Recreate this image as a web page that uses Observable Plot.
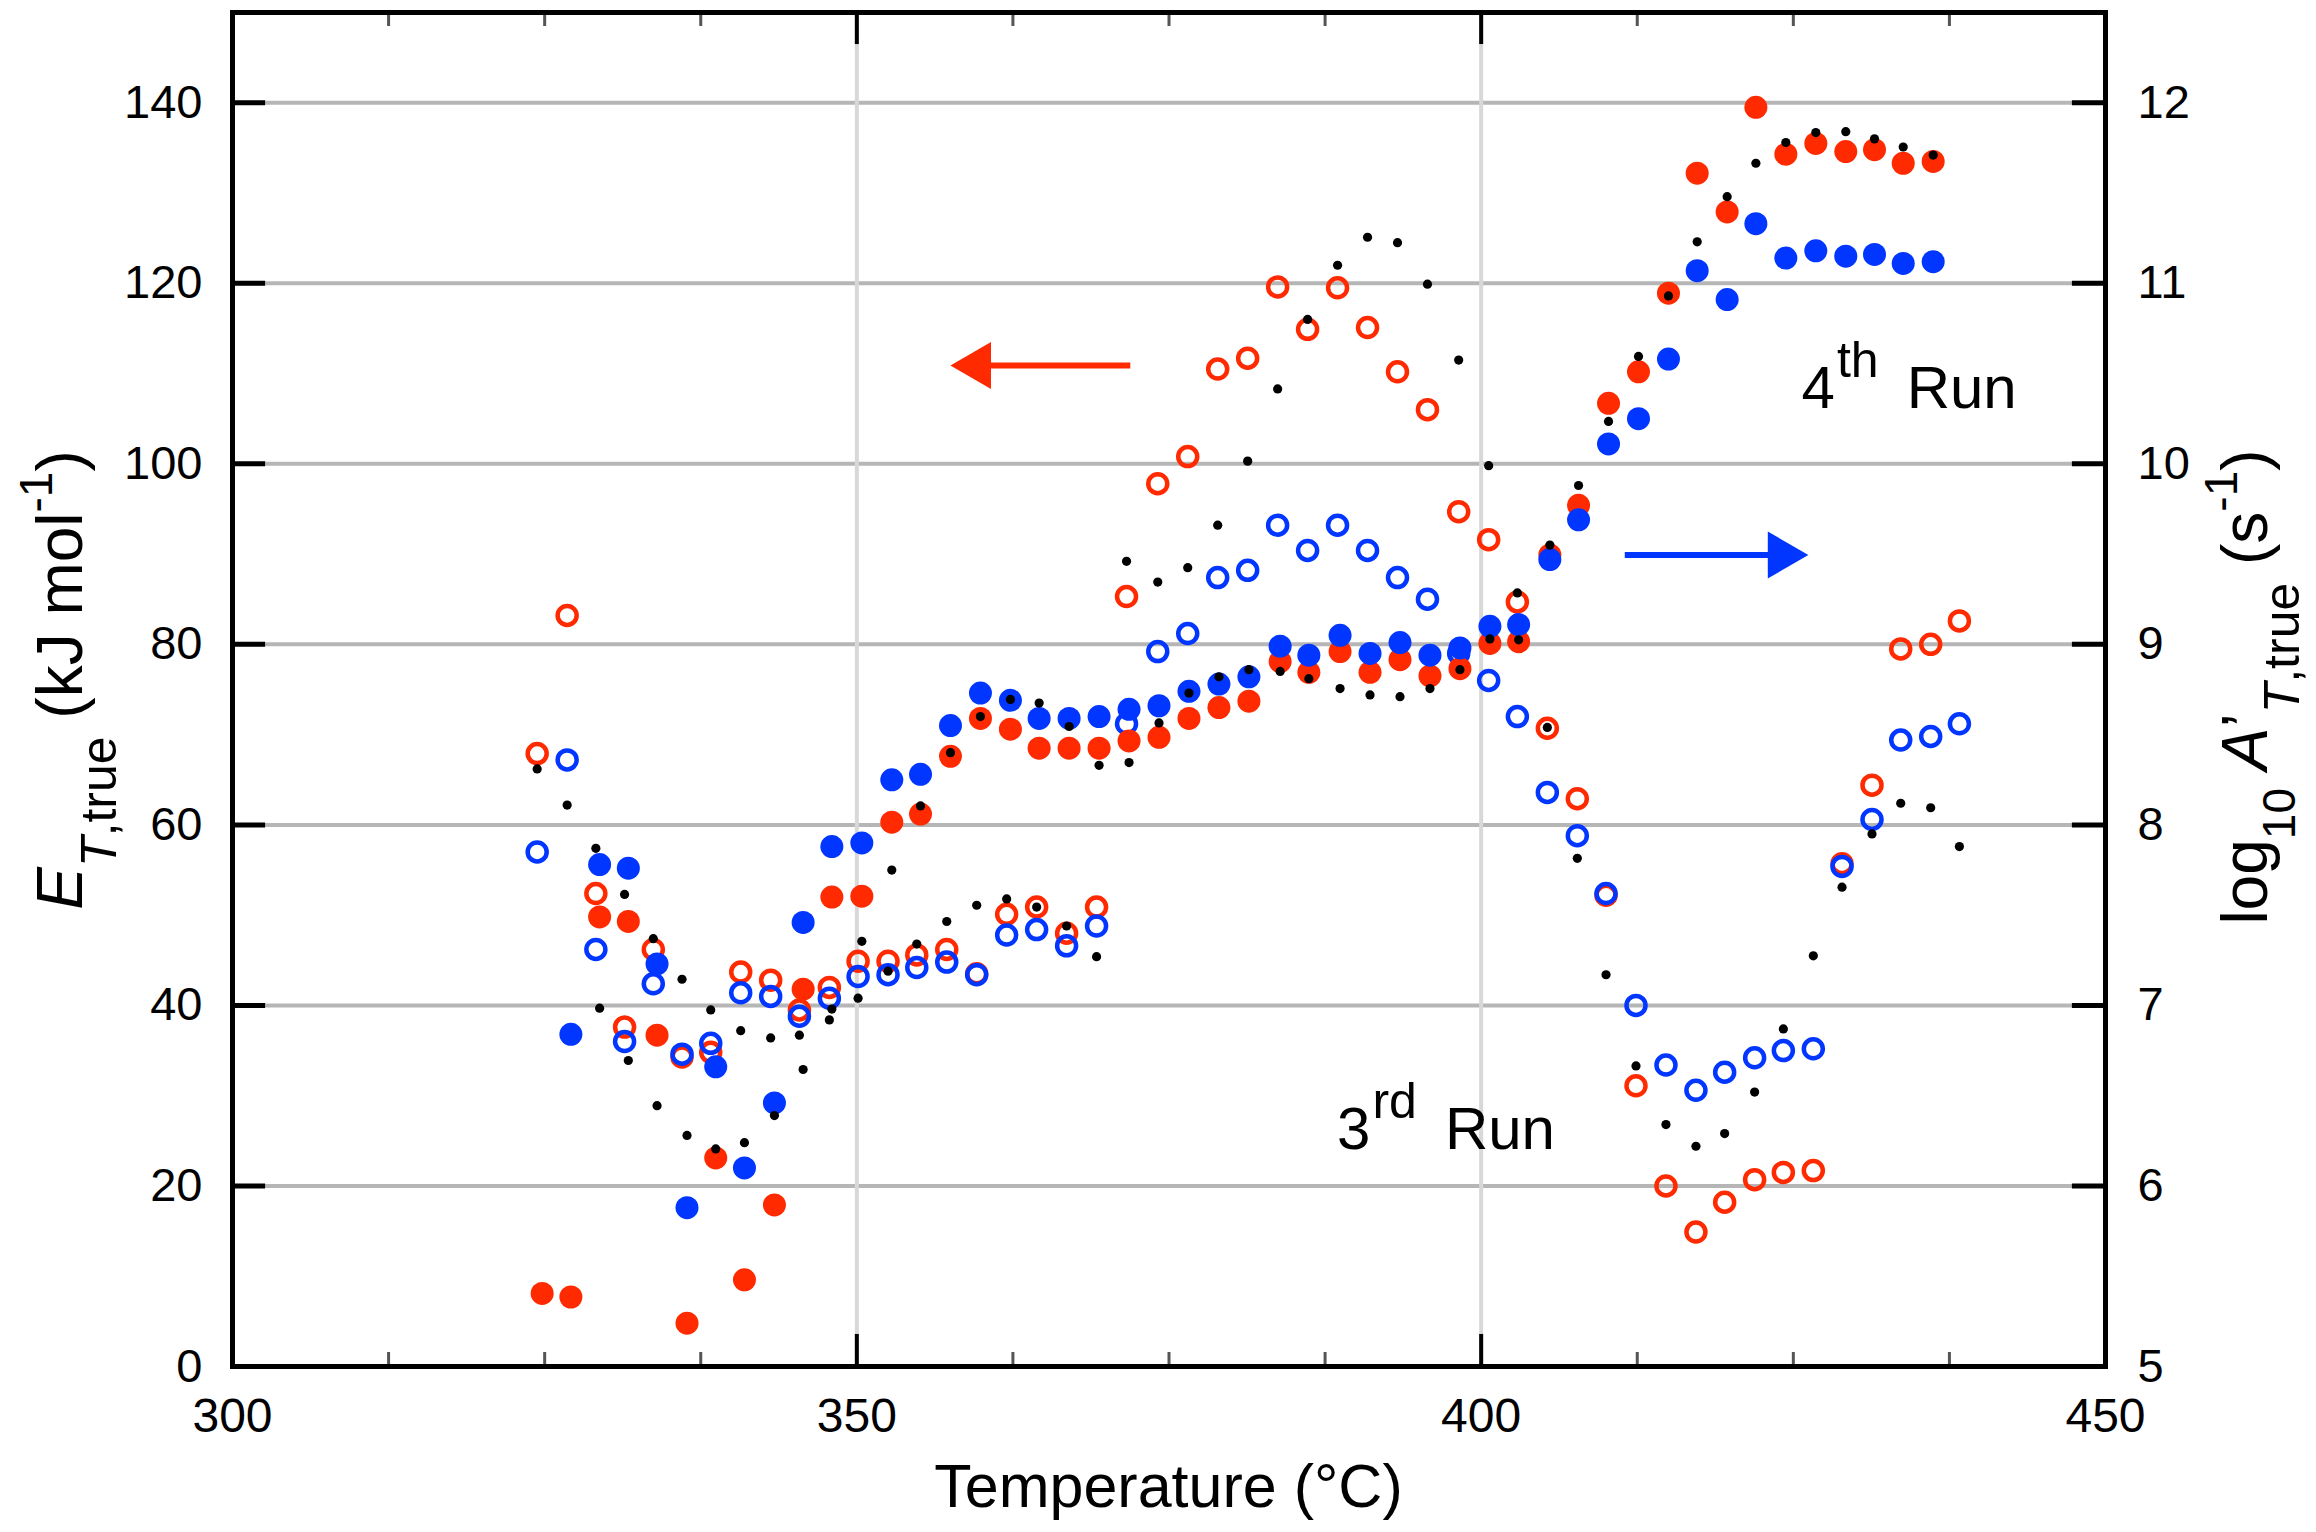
<!DOCTYPE html>
<html>
<head>
<meta charset="utf-8">
<script src="https://cdn.jsdelivr.net/npm/d3@7"></script>
<script src="https://cdn.jsdelivr.net/npm/@observablehq/plot@0.6"></script>
<style>
  html, body { margin: 0; padding: 0; background: #fff; }
  #chart svg { display: block; }
</style>
</head>
<body>
<div id="chart"></div>
<script>
// ---------- DATA ----------
// 3rd run (open symbols)
const temps3 = [324.4, 326.8, 329.1, 331.4, 333.7, 336.0, 338.3, 340.7, 343.1, 345.4,
                347.8, 350.1, 352.5, 354.8, 357.2, 359.6, 362.0, 364.4, 366.8, 369.2,
                371.6, 374.1, 376.5, 378.9, 381.3, 383.7, 386.1, 388.5, 390.9, 393.3,
                395.7, 398.2, 400.6, 402.9, 405.3, 407.7, 410.0, 412.4, 414.8, 417.2,
                419.5, 421.9, 424.2, 426.6, 428.9, 431.3, 433.6, 436.0, 438.3];
const energy3 = [67.9, 83.2, 52.4, 37.6, 46.2, 34.3, 34.8, 43.7, 42.8, 39.5,
                 42.0, 44.9, 44.9, 45.6, 46.2, 43.5, 50.1, 50.9, 48.0, 50.9,
                 85.3, 97.8, 100.8, 110.5, 111.7, 119.6, 114.9, 119.5, 115.1, 110.2,
                 106.0, 94.7, 91.6, 84.7, 70.7, 62.9, 52.2, 31.1, 20.0, 14.9,
                 18.2, 20.7, 21.5, 21.7, 55.7, 64.4, 79.5, 80.0, 82.6];
const logA3 = [7.85, 8.36, 7.31, 6.80, 7.12, 6.73, 6.79, 7.07, 7.05, 6.94,
               7.04, 7.16, 7.17, 7.21, 7.24, 7.17, 7.39, 7.42, 7.33, 7.44,
               8.56, 8.96, 9.06, 9.37, 9.41, 9.66, 9.52, 9.66, 9.52, 9.37,
               9.25, 8.95, 8.80, 8.60, 8.18, 7.94, 7.62, 7.00, 6.67, 6.53,
               6.63, 6.71, 6.75, 6.76, 7.77, 8.03, 8.47, 8.49, 8.56];
const black3 = [66.2, 62.2, 57.4, 52.3, 47.4, 42.9, 39.5, 37.2, 36.4, 36.7,
                38.4, 40.8, 43.8, 46.8, 49.3, 51.1, 51.8, 50.9, 48.8, 45.4,
                89.2, 86.9, 88.5, 93.2, 100.3, 108.3, 116.0, 122.0, 125.1, 124.5,
                119.9, 111.5, 99.8, 85.7, 70.8, 56.3, 43.4, 33.3, 26.8, 24.4,
                25.8, 30.4, 37.4, 45.5, 53.1, 59.0, 62.4, 61.9, 57.6];

// 4th run (filled symbols)
const temps4 = [324.8, 327.1, 329.4, 331.7, 334.0, 336.4, 338.7, 341.0, 343.4, 345.7,
                348.0, 350.4, 352.8, 355.1, 357.5, 359.9, 362.3, 364.6, 367.0, 369.4,
                371.8, 374.2, 376.6, 379.0, 381.4, 383.9, 386.2, 388.7, 391.1, 393.5,
                395.9, 398.3, 400.7, 403.0, 405.5, 407.8, 410.2, 412.6, 415.0, 417.3,
                419.7, 422.0, 424.4, 426.8, 429.2, 431.5, 433.8, 436.2];
const energy4 = [8.1, 7.7, 49.8, 49.3, 36.7, 4.8, 23.1, 9.6, 17.9, 41.8,
                 52.0, 52.1, 60.3, 61.2, 67.6, 71.8, 70.6, 68.5, 68.5, 68.5,
                 69.3, 69.7, 71.8, 73.0, 73.7, 78.1, 76.9, 79.2, 76.9, 78.3,
                 76.5, 77.3, 80.1, 80.3, 89.9, 95.4, 106.7, 110.2, 118.9, 132.2,
                 127.9, 139.5, 134.3, 135.5, 134.6, 134.8, 133.3, 133.5];
const logA4 = [null, 6.84, 7.78, 7.76, 7.23, 5.88, 6.66, 6.10, 6.46, 7.46,
               7.88, 7.90, 8.25, 8.28, 8.55, 8.73, 8.69, 8.59, 8.59, 8.60,
               8.64, 8.66, 8.74, 8.78, 8.82, 8.99, 8.94, 9.05, 8.95, 9.01,
               8.94, 8.98, 9.10, 9.11, 9.47, 9.69, 10.11, 10.25, 10.58, 11.07,
               10.91, 11.33, 11.14, 11.18, 11.15, 11.16, 11.11, 11.12];
const black4 = [null, null, 39.7, 33.9, 28.9, 25.6, 24.1, 24.8, 27.8, 32.9,
                39.6, 47.1, 55.0, 62.1, 68.0, 72.0, 73.9, 73.5, 70.9, 66.6,
                66.9, 71.3, 74.6, 76.4, 77.2, 77.0, 76.2, 75.1, 74.4, 74.2,
                75.1, 77.2, 80.6, 80.5, 91.0, 97.6, 104.7, 111.9, 118.6, 124.6,
                129.6, 133.3, 135.6, 136.7, 136.8, 136.0, 135.1, 134.2];

// axes / ticks
const xMajorTicks = [300, 350, 400, 450];
const xMinorTicks = [312.5, 325, 337.5, 362.5, 375, 387.5, 412.5, 425, 437.5];
const xGridLines = [350, 400];
const energyTicks = [0, 20, 40, 60, 80, 100, 120, 140];
const logATicks = [5, 6, 7, 8, 9, 10, 11, 12];

// annotations
const arrowsData = [
  {tail: 371.9, tip: 357.5, e: 110.9, color: "red"},
  {tail: 411.5, tip: 426.2, e: 89.9, color: "blue"}
];
const runLabels = [
  {t: 425.7, e: 106.1, num: "4", sup: "th"},
  {t: 388.5, e: 24.0, num: "3", sup: "rd"}
];

// ---------- BUILD ----------
const RED = "#ff2a00", BLUE = "#0036ff";
const colorOf = {red: RED, blue: BLUE};
const toE = v => (v - 5) * 20;   // right axis (log10 A) -> left axis units

const run3 = temps3.map((t, i) => ({t, e: energy3[i], logA: logA3[i], alt: black3[i]}));
const run4 = temps4.map((t, i) => ({t, e: energy4[i], logA: logA4[i], alt: black4[i]}));

const FONT = "'Liberation Sans', Arial, Helvetica, sans-serif";

const arrowMarks = arrowsData.flatMap(a => {
  const dir = Math.sign(a.tip - a.tail);
  return [
    Plot.link([a], {x1: "tail", x2: d => d.tip - dir * 1.6, y1: "e", y2: "e",
                    stroke: colorOf[a.color], strokeWidth: 6}),
    Plot.dot([a], {x: "tip", y: "e", symbol: "triangle", r: 17.4,
                   fill: colorOf[a.color], stroke: "none",
                   rotate: dir > 0 ? 90 : -90, dx: -dir * 27})
  ];
});

const chart = Plot.plot({
  width: 2316,
  height: 1532,
  marginLeft: 232,
  marginRight: 211,
  marginTop: 12,
  marginBottom: 166,
  style: {fontFamily: FONT, background: "white", color: "black"},
  x: {domain: [300, 450], axis: null},
  y: {domain: [0, 150], axis: null},
  marks: [
    Plot.ruleY(energyTicks.filter(v => v > 0), {stroke: "#b6b6b6", strokeWidth: 4}),
    Plot.ruleX(xGridLines, {stroke: "#d8d8d8", strokeWidth: 4}),
    // inward ticks
    Plot.ruleX(xMinorTicks, {y1: 0, y2: 1.55, stroke: "#555", strokeWidth: 3}),
    Plot.ruleX(xMinorTicks, {y1: 150, y2: 148.45, stroke: "#555", strokeWidth: 3}),
    Plot.ruleX(xMajorTicks, {y1: 0, y2: 3.55, stroke: "black", strokeWidth: 4}),
    Plot.ruleX(xMajorTicks, {y1: 150, y2: 146.45, stroke: "black", strokeWidth: 4}),
    Plot.ruleY(energyTicks, {x1: 300, x2: 302.65, stroke: "black", strokeWidth: 5}),
    Plot.ruleY(logATicks, {y: toE, x1: 447.35, x2: 450, stroke: "black", strokeWidth: 5}),
    // axis labels
    Plot.axisX(xMajorTicks, {tickSize: 0, tickPadding: 31, fontSize: 48, label: null}),
    Plot.axisY(energyTicks, {anchor: "left", tickSize: 0, tickPadding: 30, fontSize: 47, label: null}),
    Plot.axisY(logATicks.map(toE), {anchor: "right", tickSize: 0, tickPadding: 32, fontSize: 47,
                                    label: null, tickFormat: e => String(5 + e / 20)}),
    // data
    Plot.dot(run3, {x: "t", y: "e", r: 9.5, stroke: RED, strokeWidth: 4.5, fill: "none"}),
    Plot.dot(run3.filter(d => d.logA != null), {x: "t", y: d => toE(d.logA), r: 9.5,
                                                stroke: BLUE, strokeWidth: 4.5, fill: "none"}),
    Plot.dot(run4, {x: "t", y: "e", r: 11.5, fill: RED}),
    Plot.dot(run4.filter(d => d.logA != null), {x: "t", y: d => toE(d.logA), r: 11.5, fill: BLUE}),
    Plot.dot(run3, {x: "t", y: "alt", r: 4.6, fill: "black"}),
    Plot.dot(run4.filter(d => d.alt != null), {x: "t", y: "alt", r: 4.6, fill: "black"}),
    ...arrowMarks,
    Plot.frame({stroke: "black", strokeWidth: 5})
  ]
});

document.getElementById("chart").appendChild(chart);

// ---------- TEXT LABELS with sub/superscripts ----------
const svg = d3.select(chart);
const xs = chart.scale("x"), ys = chart.scale("y");

// x-axis title
svg.append("text")
  .attr("x", (xs.apply(300) + xs.apply(450)) / 2)
  .attr("y", 1507)
  .attr("text-anchor", "middle")
  .attr("font-family", FONT)
  .attr("font-size", 61)
  .attr("fill", "black")
  .text("Temperature (°C)");

// left y title
{
  const t = svg.append("text")
    .attr("transform", "translate(82,680) rotate(-90)")
    .attr("text-anchor", "middle")
    .attr("font-family", FONT)
    .attr("font-size", 64)
    .attr("fill", "black");
  t.append("tspan").attr("font-style", "italic").text("E");
  const sub = t.append("tspan").attr("font-size", 50).attr("dy", 34);
  sub.append("tspan").attr("font-style", "italic").text("T");
  sub.append("tspan").text(",true");
  t.append("tspan").attr("dy", -34).text(" (kJ mol");
  t.append("tspan").attr("font-size", 46).attr("dy", -30).text("-1");
  t.append("tspan").attr("dy", 30).text(")");
}

// right y title
{
  const t = svg.append("text")
    .attr("transform", "translate(2267,687) rotate(-90)")
    .attr("text-anchor", "middle")
    .attr("font-family", FONT)
    .attr("font-size", 64)
    .attr("fill", "black");
  t.append("tspan").text("log");
  t.append("tspan").attr("font-size", 46).attr("dy", 28).text("10");
  t.append("tspan").attr("dy", -28).text(" ");
  t.append("tspan").attr("font-style", "italic").text("A");
  t.append("tspan").text("\u2019");
  const sub = t.append("tspan").attr("font-size", 50).attr("dy", 32);
  sub.append("tspan").attr("font-style", "italic").text("T");
  sub.append("tspan").text(",true");
  t.append("tspan").attr("dy", -32).text(" (s");
  t.append("tspan").attr("font-size", 46).attr("dy", -30).text("-1");
  t.append("tspan").attr("dy", 30).text(")");
}

// run annotations
for (const r of runLabels) {
  const t = svg.append("text")
    .attr("x", xs.apply(r.t))
    .attr("y", ys.apply(r.e))
    .attr("text-anchor", "start")
    .attr("font-family", FONT)
    .attr("font-size", 60)
    .attr("fill", "black");
  t.append("tspan").text(r.num);
  t.append("tspan").attr("font-size", 50).attr("dx", 2).attr("dy", -31).text(r.sup);
  t.append("tspan").attr("dx", 28).attr("dy", 31).text("Run");
}
</script>
</body>
</html>
